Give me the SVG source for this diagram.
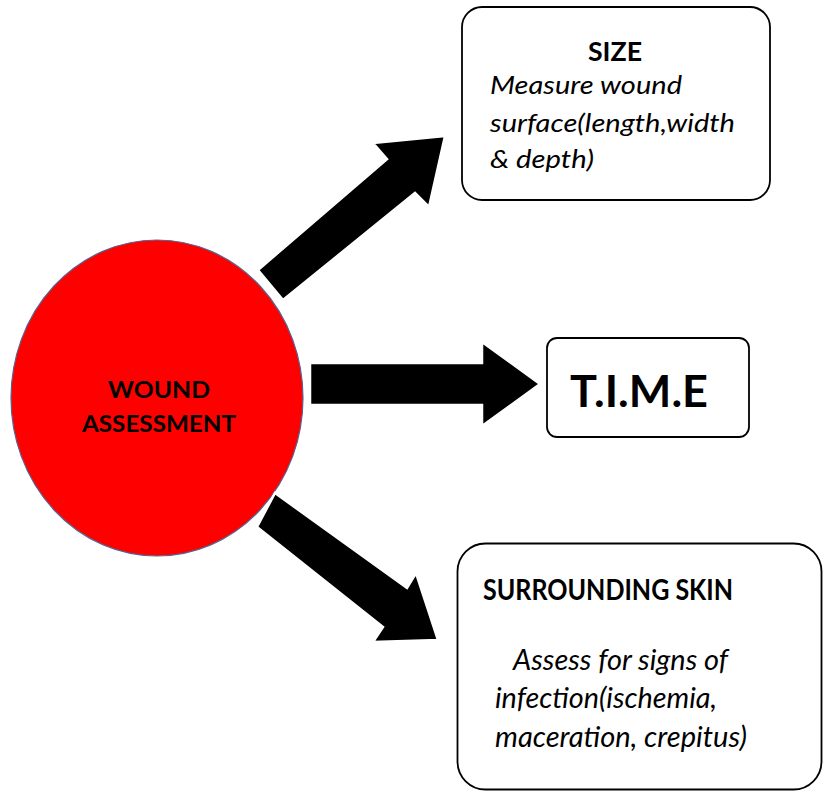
<svg xmlns="http://www.w3.org/2000/svg" width="823" height="791" viewBox="0 0 823 791">
<style>
.box{fill:#fff;stroke:#000;stroke-width:1.8}
.b{font-family:Lato,"Open Sans",sans-serif;font-weight:bold;fill:#000}
.i{font-family:Lato,"Open Sans",sans-serif;font-style:italic;fill:#000}
.arr{fill:#000;stroke:#fff;stroke-width:2.5;stroke-linejoin:miter}
</style>
<rect width="823" height="791" fill="#fff"/>
<g id="wound">
<ellipse cx="157" cy="398" rx="146" ry="158" fill="#fe0000" stroke="#56638f" stroke-width="1.2"/>
<text class="b" x="159" y="398" font-size="23.5" text-anchor="middle" textLength="102" lengthAdjust="spacingAndGlyphs">WOUND</text>
<text class="b" x="159" y="432" font-size="23.5" text-anchor="middle" textLength="154" lengthAdjust="spacingAndGlyphs">ASSESSMENT</text>
</g>
<g id="connectors">
<polygon class="arr" points="258,270 387,159 373,143 445,136 429,207 415,193 283,300"/>
<polygon class="arr" points="310,363 482,363 482,342 540,384 482,426 482,405 310,405"/>
<polygon class="arr" points="275,493 407,588 416,573 438,640 373,642 383,627 257,527"/>
</g>
<g id="size">
<rect class="box" x="462" y="7" width="308" height="193" rx="20"/>
<text class="b" x="615" y="61" font-size="26" text-anchor="middle" textLength="54" lengthAdjust="spacingAndGlyphs">SIZE</text>
<text class="i" x="490" y="94" font-size="24.5" textLength="192" lengthAdjust="spacingAndGlyphs">Measure wound</text>
<text class="i" x="490" y="132" font-size="24.5" textLength="245" lengthAdjust="spacingAndGlyphs">surface(length,width</text>
<text class="i" x="490" y="168" font-size="24.5" textLength="104" lengthAdjust="spacingAndGlyphs">&amp; depth)</text>
</g>
<g id="time">
<rect class="box" x="547" y="338" width="202" height="99" rx="10"/>
<text class="b" x="570" y="407" font-size="44" textLength="138" lengthAdjust="spacingAndGlyphs">T.I.M.E</text>
</g>
<g id="skin">
<rect class="box" x="457.5" y="543.5" width="364" height="246" rx="28"/>
<text class="b" x="483" y="600" font-size="28" textLength="250" lengthAdjust="spacingAndGlyphs">SURROUNDING SKIN</text>
<text class="i" x="513" y="670" font-size="28" textLength="215" lengthAdjust="spacingAndGlyphs">Assess for signs of</text>
<text class="i" x="495" y="708" font-size="28" textLength="222" lengthAdjust="spacingAndGlyphs">infection(ischemia,</text>
<text class="i" x="495" y="747" font-size="28" textLength="252" lengthAdjust="spacingAndGlyphs">maceration, crepitus)</text>
</g>
</svg>
